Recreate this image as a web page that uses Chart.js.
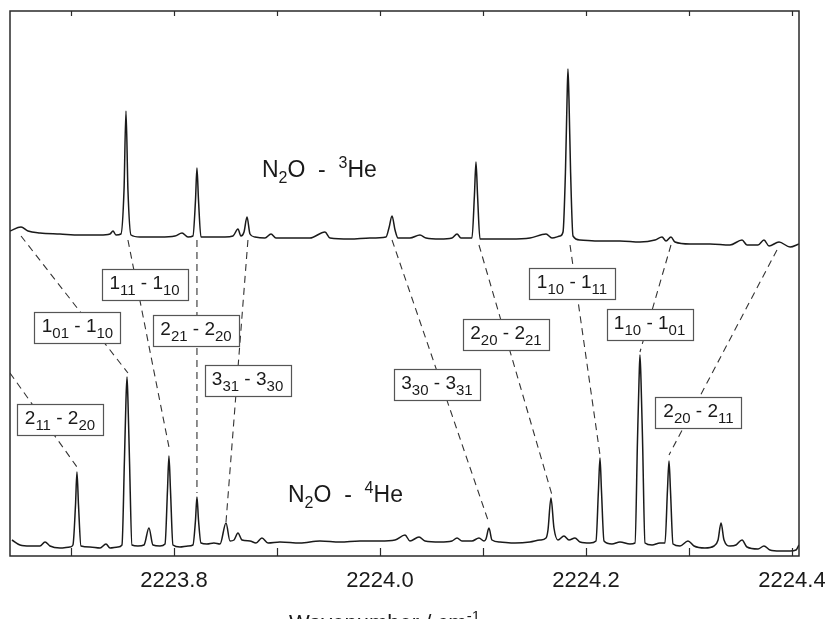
<!DOCTYPE html>
<html>
<head>
<meta charset="utf-8">
<script src="https://cdn.jsdelivr.net/npm/chart.js@4.4.0/dist/chart.umd.min.js"></script>
<style>
  html, body { margin: 0; padding: 0; background: #fff; overflow: hidden; }
  canvas { display: block; }
</style>
</head>
<body>
<canvas id="spectrum" width="825" height="619"></canvas>
<script>
// N2O - 3He trace (upper)
const he3Wavenumber = [
  2223.6408, 2223.6515, 2223.6583, 2223.6699, 2223.6893, 2223.7087, 2223.7282, 2223.7379, 2223.7408, 2223.7437,
  2223.7485, 2223.7515, 2223.7534, 2223.7553, 2223.7583, 2223.7670, 2223.7864, 2223.8010, 2223.8078, 2223.8136,
  2223.8184, 2223.8209, 2223.8223, 2223.8238, 2223.8262, 2223.8350, 2223.8495, 2223.8573, 2223.8621, 2223.8650,
  2223.8680, 2223.8709, 2223.8738, 2223.8786, 2223.8883, 2223.8942, 2223.8990, 2223.9126, 2223.9320, 2223.9466,
  2223.9515, 2223.9709, 2223.9903, 2224.0058, 2224.0087, 2224.0117, 2224.0146, 2224.0175, 2224.0291, 2224.0388,
  2224.0447, 2224.0583, 2224.0699, 2224.0748, 2224.0786, 2224.0893, 2224.0917, 2224.0932, 2224.0947, 2224.0971,
  2224.1117, 2224.1262, 2224.1456, 2224.1612, 2224.1670, 2224.1748, 2224.1777, 2224.1801, 2224.1816, 2224.1825,
  2224.1835, 2224.1850, 2224.1874, 2224.1942, 2224.2136, 2224.2330, 2224.2524, 2224.2670, 2224.2738, 2224.2777,
  2224.2825, 2224.2864, 2224.3010, 2224.3204, 2224.3398, 2224.3515, 2224.3563, 2224.3670, 2224.3728, 2224.3777,
  2224.3874, 2224.3981, 2224.4068
];
const he3Signal = [
  325, 329, 325, 323, 322, 321, 321, 322, 325, 321,
  322, 366, 445, 366, 321, 319, 319, 320, 323, 319,
  320, 356, 388, 356, 319, 319, 319, 320, 327, 320,
  324, 339, 322, 319, 318, 322, 318, 318, 318, 324,
  318, 317, 318, 319, 328, 340, 326, 318, 318, 321,
  318, 317, 318, 322, 318, 318, 361, 394, 361, 317,
  317, 317, 318, 322, 318, 320, 324, 386, 456, 487,
  456, 386, 320, 316, 315, 315, 314, 316, 319, 315,
  319, 314, 312, 312, 311, 316, 311, 311, 316, 310,
  314, 309, 312
];

// N2O - 4He trace (lower)
const he4Wavenumber = [
  2223.6427, 2223.6505, 2223.6602, 2223.6699, 2223.6748, 2223.6796, 2223.6893, 2223.6990, 2223.7019, 2223.7044,
  2223.7058, 2223.7073, 2223.7097, 2223.7184, 2223.7282, 2223.7340, 2223.7379, 2223.7456, 2223.7495, 2223.7519,
  2223.7534, 2223.7544, 2223.7553, 2223.7568, 2223.7592, 2223.7650, 2223.7709, 2223.7757, 2223.7796, 2223.7864,
  2223.7913, 2223.7937, 2223.7951, 2223.7966, 2223.7990, 2223.8058, 2223.8136, 2223.8184, 2223.8209, 2223.8223,
  2223.8238, 2223.8262, 2223.8320, 2223.8388, 2223.8447, 2223.8505, 2223.8544, 2223.8583, 2223.8621, 2223.8660,
  2223.8738, 2223.8796, 2223.8854, 2223.8913, 2223.9029, 2223.9223, 2223.9417, 2223.9612, 2223.9806, 2224.0000,
  2224.0146, 2224.0243, 2224.0291, 2224.0379, 2224.0437, 2224.0583, 2224.0699, 2224.0748, 2224.0796, 2224.0893,
  2224.0961, 2224.1010, 2224.1029, 2224.1058, 2224.1087, 2224.1165, 2224.1311, 2224.1456, 2224.1553, 2224.1612,
  2224.1631, 2224.1660, 2224.1689, 2224.1728, 2224.1786, 2224.1835, 2224.1893, 2224.1942, 2224.2039, 2224.2097,
  2224.2121, 2224.2136, 2224.2150, 2224.2175, 2224.2252, 2224.2330, 2224.2427, 2224.2476, 2224.2500, 2224.2515,
  2224.2524, 2224.2534, 2224.2549, 2224.2573, 2224.2641, 2224.2718, 2224.2767, 2224.2791, 2224.2806, 2224.2820,
  2224.2845, 2224.2913, 2224.2990, 2224.3049, 2224.3155, 2224.3243, 2224.3282, 2224.3311, 2224.3340, 2224.3398,
  2224.3456, 2224.3515, 2224.3563, 2224.3670, 2224.3728, 2224.3786, 2224.3883, 2224.3981, 2224.4039, 2224.4068
];
const he4Signal = [
  16, 11, 10, 10, 14, 10, 8, 9, 11, 51,
  84, 51, 10, 9, 8, 12, 8, 9, 11, 96,
  156, 179, 156, 96, 11, 10, 11, 28, 11, 10,
  12, 66, 100, 66, 11, 9, 10, 11, 36, 59,
  36, 13, 12, 13, 12, 33, 15, 16, 23, 16,
  15, 13, 18, 13, 14, 13, 15, 14, 15, 15,
  16, 21, 15, 19, 15, 14, 15, 18, 15, 15,
  18, 15, 17, 28, 16, 14, 13, 14, 16, 18,
  26, 58, 28, 16, 20, 16, 18, 14, 13, 15,
  66, 98, 66, 15, 12, 14, 12, 13, 116, 176,
  201, 176, 116, 13, 11, 13, 13, 66, 95, 66,
  12, 10, 15, 10, 8, 10, 16, 33, 16, 10,
  11, 16, 9, 7, 10, 6, 5, 5, 6, 11
];

const xTicks = [2223.7, 2223.8, 2223.9, 2224.0, 2224.1, 2224.2, 2224.3, 2224.4];
const xTickLabels = ['2223.8', '2224.0', '2224.2', '2224.4'];

// rotational assignments: [J, KaKc] upper - [J, KaKc] lower
const transitions = [
  ['1', '01', '1', '10'],
  ['1', '11', '1', '10'],
  ['2', '21', '2', '20'],
  ['3', '31', '3', '30'],
  ['2', '11', '2', '20'],
  ['3', '30', '3', '31'],
  ['2', '20', '2', '21'],
  ['1', '10', '1', '11'],
  ['1', '10', '1', '01'],
  ['2', '20', '2', '11']
];

// where the label boxes and the dashed guide lines sit (data units)
const boxCenters = [
  [2223.7063, 229], [2223.7714, 271], [2223.8214, 225.5], [2223.8714, 175], [2223.6893, 137],
  [2224.0553, 171], [2224.1223, 221.5], [2224.1864, 273], [2224.2617, 231.5], [2224.3092, 143.5]
];
const guideTops = [
  [2223.6515, 320], [2223.7553, 316], [2223.8223, 316], [2223.8718, 316], [2223.6408, 183],
  [2224.0117, 316], [2224.0961, 311], [2224.1845, 311], [2224.2825, 311], [2224.3854, 306]
];
const guideBottoms = [
  [2223.7553, 183], [2223.7951, 109], [2223.8223, 63], [2223.8505, 34], [2223.7058, 89],
  [2224.1058, 33], [2224.1670, 61], [2224.2136, 101], [2224.2524, 204], [2224.2806, 101]
];

const FONT = '"Liberation Sans", Arial, Helvetica, sans-serif';

const toPoints = (xs, ys) => xs.map((x, i) => ({ x: x, y: ys[i] }));

const guideSets = guideTops.map((top, i) => ({
  data: [{ x: top[0], y: top[1] }, { x: guideBottoms[i][0], y: guideBottoms[i][1] }],
  borderColor: '#333',
  borderWidth: 1.1,
  borderDash: [7, 5],
  pointRadius: 0,
  tension: 0
}));

// draws runs of [text, size, dy] one after another
function drawRuns(ctx, runs, x, y) {
  let cx = x;
  runs.forEach(([t, size, dy]) => {
    ctx.font = size + 'px ' + FONT;
    ctx.fillText(t, cx, y + dy);
    cx += ctx.measureText(t).width;
  });
}
function runsWidth(ctx, runs) {
  let w = 0;
  runs.forEach(([t, size]) => {
    ctx.font = size + 'px ' + FONT;
    w += ctx.measureText(t).width;
  });
  return w;
}

const decorations = {
  id: 'decorations',
  afterDatasetsDraw(chart) {
    const { ctx, chartArea: a, scales: { x, y } } = chart;
    ctx.save();
    ctx.textBaseline = 'alphabetic';
    ctx.fillStyle = '#1a1a1a';

    // transition boxes
    transitions.forEach((p, i) => {
      const cx = x.getPixelForValue(boxCenters[i][0]);
      const cy = y.getPixelForValue(boxCenters[i][1]);
      const w = 86, h = 31;
      const left = Math.round(cx - w / 2) + 0.5;
      const top = Math.round(cy - h / 2) + 0.5;
      ctx.fillStyle = '#fff';
      ctx.fillRect(left, top, w, h);
      ctx.strokeStyle = '#555';
      ctx.lineWidth = 1.2;
      ctx.strokeRect(left, top, w, h);
      const runs = [[p[0], 19, 0], [p[1], 15, 6], [' - ', 19, 0], [p[2], 19, 0], [p[3], 15, 6]];
      ctx.fillStyle = '#1a1a1a';
      drawRuns(ctx, runs, cx - runsWidth(ctx, runs) / 2, top + 19);
    });

    // species labels
    drawRuns(ctx, [['N', 23, 0], ['2', 16, 6], ['O', 23, 0], ['  -  ', 23, 0], ['3', 16, -9], ['He', 23, 0]],
      x.getPixelForValue(2223.8854), y.getPixelForValue(379));
    drawRuns(ctx, [['N', 23, 0], ['2', 16, 6], ['O', 23, 0], ['  -  ', 23, 0], ['4', 16, -9], ['He', 23, 0]],
      x.getPixelForValue(2223.9107), y.getPixelForValue(54));

    // frame
    ctx.strokeStyle = '#2a2a2a';
    ctx.lineWidth = 1.5;
    ctx.strokeRect(a.left, a.top, a.right - a.left, a.bottom - a.top);

    // inward tick marks, bottom and top
    ctx.lineWidth = 1.2;
    xTicks.forEach(v => {
      const px = Math.round(x.getPixelForValue(v)) + 0.5;
      ctx.beginPath();
      ctx.moveTo(px, a.bottom);
      ctx.lineTo(px, a.bottom - 8);
      ctx.moveTo(px, a.top);
      ctx.lineTo(px, a.top + 5);
      ctx.stroke();
    });

    // axis title (cut by the bottom edge as in the scan)
    drawRuns(ctx, [['Wavenumber / cm', 22, 0], ['-1', 15, -9]], 289, 630);
    ctx.restore();
  }
};

new Chart(document.getElementById('spectrum'), {
  type: 'line',
  data: {
    datasets: [
      {
        data: toPoints(he3Wavenumber, he3Signal),
        borderColor: '#1a1a1a',
        borderWidth: 1.5,
        pointRadius: 0,
        cubicInterpolationMode: 'monotone'
      },
      {
        data: toPoints(he4Wavenumber, he4Signal),
        borderColor: '#1a1a1a',
        borderWidth: 1.5,
        pointRadius: 0,
        cubicInterpolationMode: 'monotone'
      },
      ...guideSets
    ]
  },
  options: {
    responsive: false,
    animation: false,
    layout: { padding: { top: 11, right: 26, left: 0, bottom: 0 } },
    plugins: { legend: { display: false }, tooltip: { enabled: false } },
    scales: {
      x: {
        type: 'linear',
        min: 2223.6408,
        max: 2224.4068,
        grid: { display: false },
        border: { display: false },
        afterBuildTicks: s => { s.ticks = xTicks.map(v => ({ value: v })); },
        afterFit: s => { s.height = 63; s.paddingLeft = 0; s.paddingRight = 0; },
        ticks: {
          autoSkip: false,
          maxRotation: 0,
          padding: 4,
          color: '#1a1a1a',
          font: { family: FONT, size: 22 },
          callback: v => {
            const s = Number(v).toFixed(1);
            return xTickLabels.includes(s) ? s : '';
          }
        }
      },
      y: {
        min: 0,
        max: 545,
        grid: { display: false },
        border: { display: false },
        ticks: { display: false },
        afterFit: s => { s.width = 10; }
      }
    }
  },
  plugins: [decorations]
});
</script>
</body>
</html>
